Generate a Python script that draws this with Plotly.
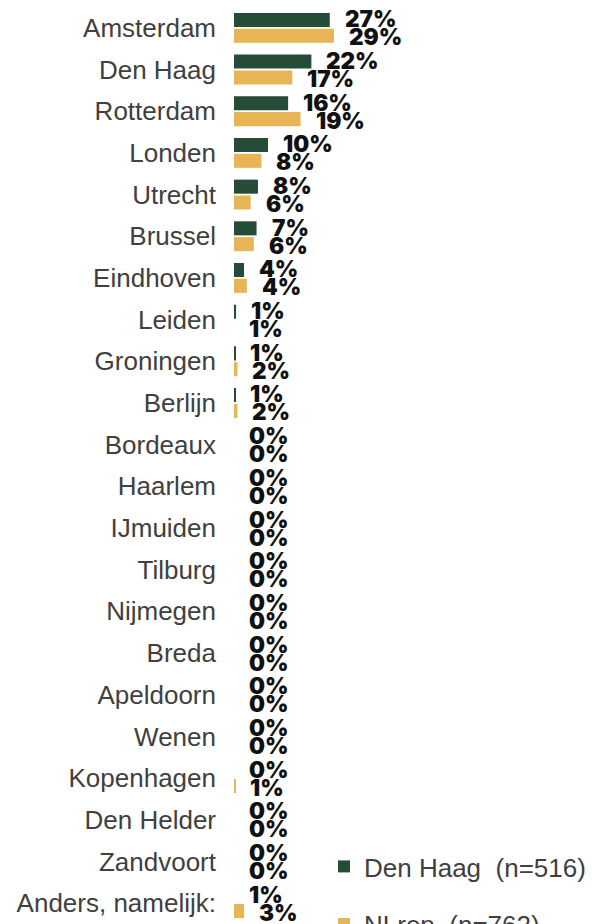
import plotly.graph_objects as go

cities = ["Amsterdam", "Den Haag", "Rotterdam", "Londen", "Utrecht", "Brussel",
          "Eindhoven", "Leiden", "Groningen", "Berlijn", "Bordeaux", "Haarlem",
          "IJmuiden", "Tilburg", "Nijmegen", "Breda", "Apeldoorn", "Wenen",
          "Kopenhagen", "Den Helder", "Zandvoort", "Anders, namelijk:"]

den_haag = [27.6, 22.3, 15.6, 9.8, 6.9, 6.5, 2.9, 0.6, 0.4, 0.35, 0, 0,
            0, 0, 0, 0, 0, 0, 0, 0, 0, 0]
nlrep = [28.8, 16.8, 19.2, 7.9, 4.8, 5.7, 3.7, 0, 1.0, 1.0, 0, 0,
         0, 0, 0, 0, 0, 0, 0.4, 0, 0, 2.9]

den_haag_labels = ["27%", "22%", "16%", "10%", "8%", "7%", "4%", "1%", "1%", "1%",
                   "0%", "0%", "0%", "0%", "0%", "0%", "0%", "0%", "0%", "0%", "0%", "1%"]
nlrep_labels = ["29%", "17%", "19%", "8%", "6%", "6%", "4%", "1%", "2%", "2%",
                "0%", "0%", "0%", "0%", "0%", "0%", "0%", "0%", "1%", "0%", "0%", "3%"]

series_names = ["Den Haag\u00a0 (n=516)", "NLrep\u00a0 (n=762)"]

GREEN = "#254C37"
YELLOW = "#E7B556"
TXT = "#404040"
W, H = 592, 924
ML, MR, MT, MB = 234, 0, 7, 0
PX_PER_PCT = 3.47
PLOT_W = W - ML - MR
PLOT_H = H - MT - MB
TICK_FONT = dict(family="Liberation Sans, Arial, sans-serif", size=26, color=TXT)

fig = go.Figure()
fig.add_trace(go.Bar(y=cities, x=den_haag, orientation="h", name=series_names[0],
                     marker=dict(color=GREEN, line=dict(width=0)), legend="legend"))
fig.add_trace(go.Bar(y=cities, x=nlrep, orientation="h", name=series_names[1],
                     marker=dict(color=YELLOW, line=dict(width=0)), legend="legend2"))

label_font = dict(family="Inter", size=22.5, color="#111111", weight=900)
annotations = []
for vals, labs, ys in ((den_haag, den_haag_labels, 9), (nlrep, nlrep_labels, -9)):
    for c, v, t in zip(cities, vals, labs):
        annotations.append(dict(x=v, y=c, xref="x", yref="y", text=t, showarrow=False,
                                xanchor="left", yanchor="middle", xshift=13, yshift=ys,
                                font=label_font))

legend_common = dict(xref="paper", yref="paper", xanchor="left", yanchor="middle",
                     font=TICK_FONT, bgcolor="rgba(0,0,0,0)", borderwidth=0)

fig.update_layout(
    width=W, height=H,
    margin=dict(l=ML, r=MR, t=MT, b=MB, autoexpand=False),
    paper_bgcolor="white", plot_bgcolor="white",
    barmode="group", bargap=0.24, bargroupgap=0.114,
    font=TICK_FONT,
    hovermode=False,
    xaxis=dict(range=[0, PLOT_W / PX_PER_PCT], visible=False, fixedrange=True),
    yaxis=dict(categoryorder="array", categoryarray=cities,
               range=[len(cities) - 0.5, -0.5], showgrid=False, showline=False,
               ticks="", ticklabelstandoff=17, zeroline=False, automargin=False,
               fixedrange=True, tickfont=TICK_FONT),
    annotations=annotations,
    legend=dict(x=(324 - ML) / PLOT_W, y=(H - 866.5) / PLOT_H, **legend_common),
    legend2=dict(x=(324 - ML) / PLOT_W, y=(H - 924) / PLOT_H, **legend_common),
    showlegend=True,
)

fig.write_html("out.html", config={"displayModeBar": False},
               post_script="document.body.style.margin='0';document.body.style.padding='0';")
